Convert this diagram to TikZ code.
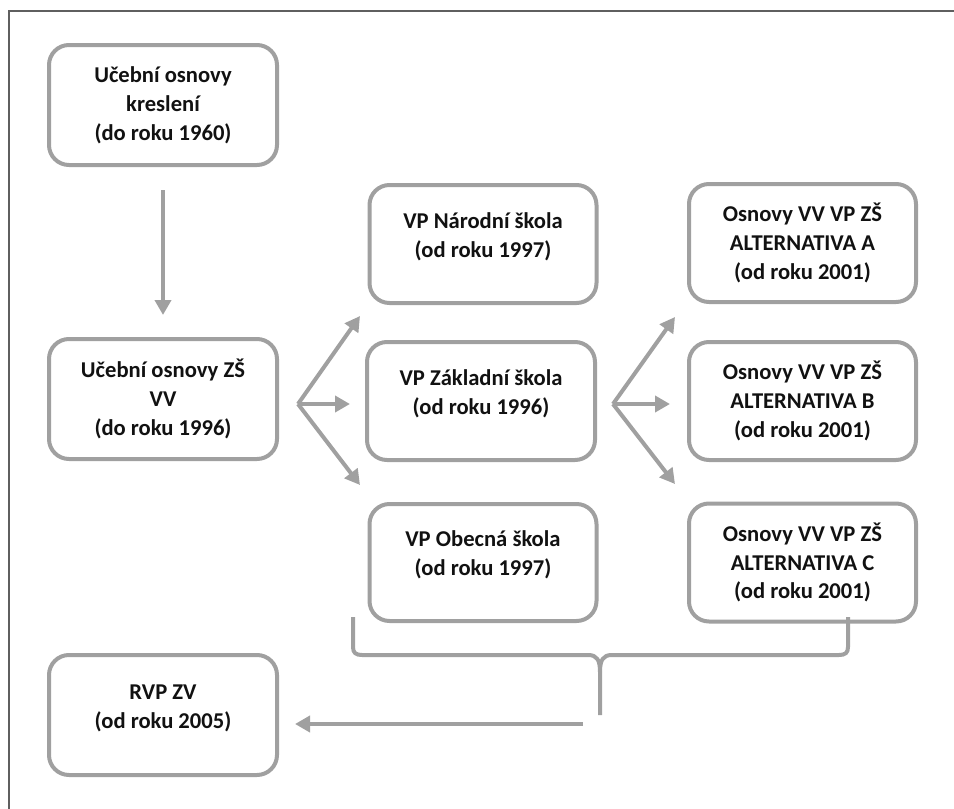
\documentclass[tikz,border=0pt]{standalone}
\usepackage{fontspec}
\setmainfont{Carlito}
\usetikzlibrary{arrows.meta}
\definecolor{boxgray}{HTML}{A0A0A0}
\definecolor{framegray}{HTML}{5F5F5F}
\definecolor{txt}{HTML}{111111}
\begin{document}
\begin{tikzpicture}[x=1pt,y=-1pt,
  box/.style={draw=boxgray, line width=4pt, rounded corners=20pt,
    minimum width=228pt, minimum height=118pt, align=center,
    font=\fontsize{22.6}{28.8}\selectfont\bfseries, text=txt, inner sep=0pt},
  twoline/.style={text height=45pt, text depth=19pt},
  conn/.style={draw=boxgray, line width=4pt, -{Triangle[width=16pt,length=15pt]}},
  bracestyle/.style={draw=boxgray, line width=4pt},
]
\useasboundingbox (0,0) rectangle (954,809);
% frame
\draw[framegray, line width=2pt] (954,11) -- (9,11) -- (9,809);

% boxes
\node[box, minimum height=120pt] (kres) at (163,105) {Učební osnovy\\kreslení\\(do roku 1960)};
\node[box, minimum height=120pt] (zsvv) at (163,399) {Učební osnovy ZŠ\\VV\\(do roku 1996)};
\node[box, twoline, minimum width=227pt, minimum height=118pt] (nar) at (483,244) {VP Národní škola\\(od roku 1997)};
\node[box, twoline] (zakl) at (481,401) {VP Základní škola\\(od roku 1996)};
\node[box, twoline, minimum width=227pt, minimum height=117pt] (obec) at (483,562.5) {VP Obecná škola\\(od roku 1997)};
\node[box, minimum width=227pt] (altA) at (802.5,243) {Osnovy VV VP ZŠ\\ALTERNATIVA A\\(od roku 2001)};
\node[box, minimum width=227pt] (altB) at (802.5,401) {Osnovy VV VP ZŠ\\ALTERNATIVA B\\(od roku 2001)};
\node[box, minimum width=227pt] (altC) at (802.5,562.5) {Osnovy VV VP ZŠ\\ALTERNATIVA C\\(od roku 2001)};
\node[box, twoline, minimum height=120pt] (rvp) at (163,715) {RVP ZV\\(od roku 2005)};

% vertical arrow
\draw[conn, shorten <=23pt, shorten >=22pt] (kres.south) -- (zsvv.north);

% left fan
\coordinate (f1) at (298,404);
\coordinate (f1u) at (360,316);
\coordinate (f1d) at (360,485);
\draw[conn] (f1) -- (f1u);
\draw[conn, shorten >=15pt] (f1) -- (f1 -| zakl.west);
\draw[conn] (f1) -- (f1d);

% right fan
\coordinate (f2) at (613,404);
\coordinate (f2u) at (675,317);
\coordinate (f2d) at (675,484);
\draw[conn] (f2) -- (f2u);
\draw[conn, shorten >=17pt] (f2) -- (f2 -| altB.west);
\draw[conn] (f2) -- (f2d);

% brace
\coordinate (brL) at (353,617);
\coordinate (brR) at (848,617);
\coordinate (brT) at (600,715);
\draw[bracestyle] (brL) -- (353,647) .. controls (353,653) and (356,655) .. (362,655)
  -- (588,655) .. controls (597,655) and (600,660) .. (600,672) -- (brT);
\draw[bracestyle] (brR) -- (848,647) .. controls (848,653) and (845,655) .. (839,655)
  -- (612,655) .. controls (603,655) and (600,660) .. (600,672);

% bottom arrow
\coordinate (ba) at (583,724);
\draw[conn, shorten >=16pt] (ba) -- (ba -| rvp.east);
\end{tikzpicture}
\end{document}
